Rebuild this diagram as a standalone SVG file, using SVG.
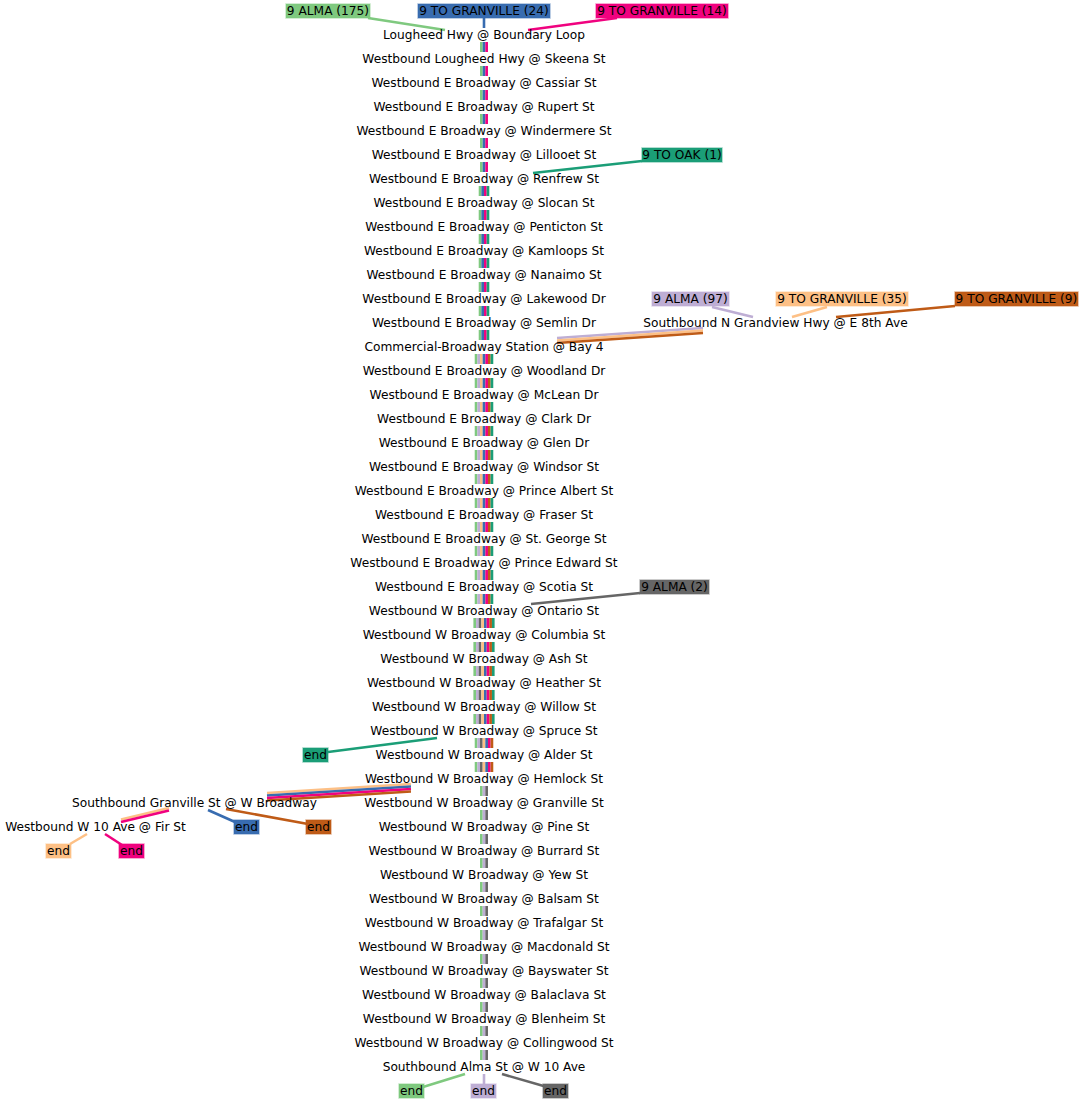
<svg xmlns="http://www.w3.org/2000/svg" width="1084" height="1104" viewBox="0 0 1084 1104">
<style>
text{font-family:"DejaVu Sans",sans-serif;font-size:12.2px;fill:#000;text-anchor:middle}
.bar{fill:none;stroke-width:2.65;stroke-dasharray:10 14;stroke-linecap:butt}
.c{fill:none;stroke-width:2.6;stroke-linecap:butt}
.lb{stroke-width:1.5;stroke-opacity:0.45}
.g{stroke:#7fc97f}.gf{fill:#7fc97f;stroke:#7fc97f}
.l{stroke:#beaed4}.lf{fill:#beaed4;stroke:#beaed4}
.p{stroke:#fdc086}.pf{fill:#fdc086;stroke:#fdc086}
.b{stroke:#386cb0}.bf{fill:#386cb0;stroke:#386cb0}
.m{stroke:#f0027f}.mf{fill:#f0027f;stroke:#f0027f}
.r{stroke:#bf5b17}.rf{fill:#bf5b17;stroke:#bf5b17}
.k{stroke:#666666}.kf{fill:#666666;stroke:#666666}
.t{stroke:#1b9e77}.tf{fill:#1b9e77;stroke:#1b9e77}
</style>
<g id="connectors">
<path class="bar g" d="M481.35 42V172"/><path class="bar b" d="M484 42V172"/><path class="bar m" d="M486.65 42V172"/>
<path class="bar g" d="M480.03 186V340"/><path class="bar b" d="M482.68 186V340"/><path class="bar m" d="M485.33 186V340"/><path class="bar t" d="M487.98 186V340"/>
<path class="bar g" d="M476.05 354V604"/><path class="bar l" d="M478.7 354V604"/><path class="bar p" d="M481.35 354V604"/><path class="bar b" d="M484 354V604"/><path class="bar m" d="M486.65 354V604"/><path class="bar r" d="M489.3 354V604"/><path class="bar t" d="M491.95 354V604"/>
<path class="bar g" d="M474.73 618V724"/><path class="bar l" d="M477.38 618V724"/><path class="bar k" d="M480.03 618V724"/><path class="bar p" d="M482.68 618V724"/><path class="bar b" d="M485.33 618V724"/><path class="bar m" d="M487.98 618V724"/><path class="bar r" d="M490.63 618V724"/><path class="bar t" d="M493.28 618V724"/>
<path class="bar g" d="M476.05 738V772"/><path class="bar l" d="M478.7 738V772"/><path class="bar k" d="M481.35 738V772"/><path class="bar p" d="M484 738V772"/><path class="bar b" d="M486.65 738V772"/><path class="bar m" d="M489.3 738V772"/><path class="bar r" d="M491.95 738V772"/>
<path class="bar g" d="M481.35 786V1060"/><path class="bar l" d="M484 786V1060"/><path class="bar k" d="M486.65 786V1060"/>
<line class="c g" x1="368" y1="18" x2="445" y2="30"/>
<line class="c b" x1="484" y1="18" x2="484" y2="28"/>
<line class="c m" x1="617" y1="18" x2="528" y2="30"/>
<line class="c t" x1="642" y1="161" x2="533" y2="173"/>
<line class="c l" x1="712" y1="307" x2="753" y2="317"/>
<line class="c p" x1="827" y1="307" x2="792" y2="317"/>
<line class="c r" x1="955" y1="306" x2="836" y2="317"/>
<line class="c l" x1="703" y1="328" x2="557" y2="338"/>
<line class="c p" x1="703" y1="330.5" x2="557" y2="340.5"/>
<line class="c r" x1="703" y1="333" x2="557" y2="343"/>
<line class="c k" x1="640" y1="593" x2="531" y2="604"/>
<line class="c t" x1="328" y1="752" x2="437" y2="738"/>
<line class="c p" x1="411" y1="784" x2="267" y2="793"/>
<line class="c b" x1="411" y1="786.5" x2="267" y2="795.5"/>
<line class="c m" x1="411" y1="789" x2="267" y2="798"/>
<line class="c r" x1="411" y1="791.5" x2="267" y2="800.5"/>
<line class="c b" x1="208" y1="810" x2="235" y2="822"/>
<line class="c r" x1="226" y1="809" x2="308" y2="824"/>
<line class="c p" x1="169" y1="808" x2="121" y2="819.5"/>
<line class="c m" x1="169" y1="810.5" x2="121" y2="822"/>
<line class="c p" x1="87" y1="834" x2="70" y2="844"/>
<line class="c m" x1="105" y1="834" x2="122" y2="845"/>
<line class="c g" x1="465" y1="1074" x2="423" y2="1087"/>
<line class="c l" x1="484" y1="1074" x2="484" y2="1084"/>
<line class="c k" x1="502" y1="1074" x2="547" y2="1087"/>
</g>
<g id="stops">
<text x="484" y="39">Lougheed Hwy @ Boundary Loop</text>
<text x="484" y="63">Westbound Lougheed Hwy @ Skeena St</text>
<text x="484" y="87">Westbound E Broadway @ Cassiar St</text>
<text x="484" y="111">Westbound E Broadway @ Rupert St</text>
<text x="484" y="135">Westbound E Broadway @ Windermere St</text>
<text x="484" y="159">Westbound E Broadway @ Lillooet St</text>
<text x="484" y="183">Westbound E Broadway @ Renfrew St</text>
<text x="484" y="207">Westbound E Broadway @ Slocan St</text>
<text x="484" y="231">Westbound E Broadway @ Penticton St</text>
<text x="484" y="255">Westbound E Broadway @ Kamloops St</text>
<text x="484" y="279">Westbound E Broadway @ Nanaimo St</text>
<text x="484" y="303">Westbound E Broadway @ Lakewood Dr</text>
<text x="484" y="327">Westbound E Broadway @ Semlin Dr</text>
<text x="484" y="351">Commercial-Broadway Station @ Bay 4</text>
<text x="484" y="375">Westbound E Broadway @ Woodland Dr</text>
<text x="484" y="399">Westbound E Broadway @ McLean Dr</text>
<text x="484" y="423">Westbound E Broadway @ Clark Dr</text>
<text x="484" y="447">Westbound E Broadway @ Glen Dr</text>
<text x="484" y="471">Westbound E Broadway @ Windsor St</text>
<text x="484" y="495">Westbound E Broadway @ Prince Albert St</text>
<text x="484" y="519">Westbound E Broadway @ Fraser St</text>
<text x="484" y="543">Westbound E Broadway @ St. George St</text>
<text x="484" y="567">Westbound E Broadway @ Prince Edward St</text>
<text x="484" y="591">Westbound E Broadway @ Scotia St</text>
<text x="484" y="615">Westbound W Broadway @ Ontario St</text>
<text x="484" y="639">Westbound W Broadway @ Columbia St</text>
<text x="484" y="663">Westbound W Broadway @ Ash St</text>
<text x="484" y="687">Westbound W Broadway @ Heather St</text>
<text x="484" y="711">Westbound W Broadway @ Willow St</text>
<text x="484" y="735">Westbound W Broadway @ Spruce St</text>
<text x="484" y="759">Westbound W Broadway @ Alder St</text>
<text x="484" y="783">Westbound W Broadway @ Hemlock St</text>
<text x="484" y="807">Westbound W Broadway @ Granville St</text>
<text x="484" y="831">Westbound W Broadway @ Pine St</text>
<text x="484" y="855">Westbound W Broadway @ Burrard St</text>
<text x="484" y="879">Westbound W Broadway @ Yew St</text>
<text x="484" y="903">Westbound W Broadway @ Balsam St</text>
<text x="484" y="927">Westbound W Broadway @ Trafalgar St</text>
<text x="484" y="951">Westbound W Broadway @ Macdonald St</text>
<text x="484" y="975">Westbound W Broadway @ Bayswater St</text>
<text x="484" y="999">Westbound W Broadway @ Balaclava St</text>
<text x="484" y="1023">Westbound W Broadway @ Blenheim St</text>
<text x="484" y="1047">Westbound W Broadway @ Collingwood St</text>
<text x="484" y="1071">Southbound Alma St @ W 10 Ave</text>
<text x="775.5" y="327">Southbound N Grandview Hwy @ E 8th Ave</text>
<text x="194.5" y="807">Southbound Granville St @ W Broadway</text>
<text x="95.5" y="831">Westbound W 10 Ave @ Fir St</text>
</g>
<g id="labels">
<g id="l-alma175"><rect class="lb gf" x="286" y="4" width="84" height="14"/><text x="328" y="15">9 ALMA (175)</text></g>
<g id="l-gran24"><rect class="lb bf" x="418" y="4" width="132" height="14"/><text x="484" y="15">9 TO GRANVILLE (24)</text></g>
<g id="l-gran14"><rect class="lb mf" x="596" y="4" width="132" height="14"/><text x="662" y="15">9 TO GRANVILLE (14)</text></g>
<g id="l-oak1"><rect class="lb tf" x="642" y="148" width="80" height="14"/><text x="682" y="159">9 TO OAK (1)</text></g>
<g id="l-alma97"><rect class="lb lf" x="652" y="292" width="77" height="14"/><text x="690.5" y="303">9 ALMA (97)</text></g>
<g id="l-gran35"><rect class="lb pf" x="776" y="292" width="132" height="14"/><text x="842" y="303">9 TO GRANVILLE (35)</text></g>
<g id="l-gran9"><rect class="lb rf" x="955" y="292" width="123" height="14"/><text x="1016.5" y="303">9 TO GRANVILLE (9)</text></g>
<g id="l-alma2"><rect class="lb kf" x="640" y="580" width="69" height="14"/><text x="674.5" y="591">9 ALMA (2)</text></g>
<g id="e-teal"><rect class="lb tf" x="303" y="748" width="25" height="14"/><text x="315.5" y="759">end</text></g>
<g id="e-blue"><rect class="lb bf" x="234" y="820" width="25" height="14"/><text x="246.5" y="831">end</text></g>
<g id="e-brown"><rect class="lb rf" x="306" y="820" width="25" height="14"/><text x="318.5" y="831">end</text></g>
<g id="e-peach"><rect class="lb pf" x="46" y="844" width="25" height="14"/><text x="58.5" y="855">end</text></g>
<g id="e-pink"><rect class="lb mf" x="119" y="844" width="25" height="14"/><text x="131.5" y="855">end</text></g>
<g id="e-green"><rect class="lb gf" x="399" y="1084" width="25" height="14"/><text x="411.5" y="1095">end</text></g>
<g id="e-lav"><rect class="lb lf" x="471" y="1084" width="25" height="14"/><text x="483.5" y="1095">end</text></g>
<g id="e-gray"><rect class="lb kf" x="543" y="1084" width="25" height="14"/><text x="555.5" y="1095">end</text></g>
</g>
</svg>
